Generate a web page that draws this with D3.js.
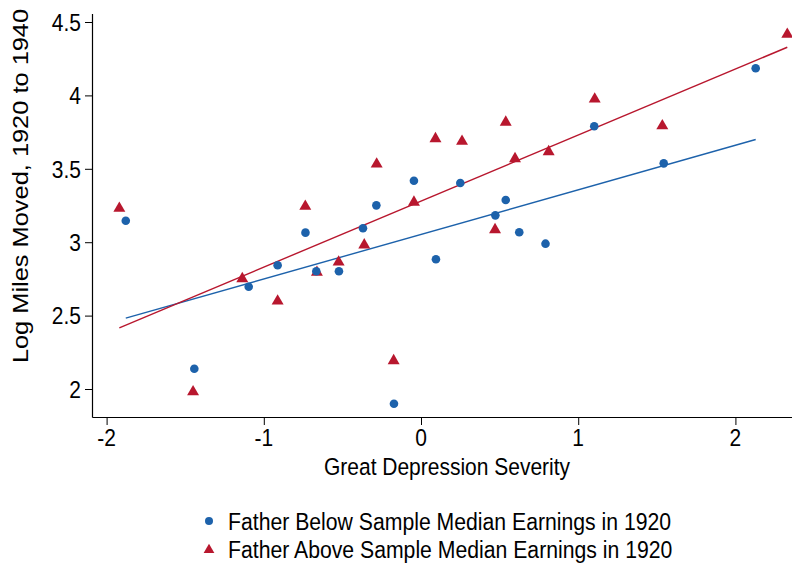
<!DOCTYPE html>
<html>
<head>
<meta charset="utf-8">
<script src="https://cdn.jsdelivr.net/npm/d3@7/dist/d3.min.js"></script>
<style>
  html, body { margin: 0; padding: 0; background: #fff; }
  svg { display: block; }
  text { font-family: "Liberation Sans", Arial, Helvetica, sans-serif; fill: #000; }
</style>
</head>
<body>
<svg id="chart" width="792" height="563"></svg>
<script>
// Great Depression severity vs. log miles moved, by father's 1920 earnings group
const belowX = [-1.878, -1.442, -1.096, -0.912, -0.735, -0.666, -0.522, -0.369, -0.284, -0.172,
                -0.045, 0.095, 0.250, 0.473, 0.539, 0.625, 0.792, 1.102, 1.544, 2.129];
const belowY = [3.146, 2.138, 2.697, 2.843, 3.065, 2.802, 2.802, 3.095, 3.251, 1.900,
                3.419, 2.884, 3.403, 3.183, 3.287, 3.068, 2.990, 3.790, 3.537, 4.185];

const aboveX = [-1.919, -1.450, -1.137, -0.912, -0.736, -0.662, -0.524, -0.361, -0.282, -0.174,
                -0.045, 0.092, 0.261, 0.471, 0.539, 0.598, 0.812, 1.105, 1.535, 2.330];
const aboveY = [3.231, 1.981, 2.751, 2.599, 3.244, 2.795, 2.864, 2.981, 3.532, 2.193,
                3.272, 3.705, 3.687, 3.085, 3.817, 3.569, 3.616, 3.975, 3.793, 4.416];

// Linear fits: intercept, slope
const belowFit = [3.053, 0.3037];
const aboveFit = [3.280, 0.4498];

const xTicks = [-2, -1, 0, 1, 2];
const yTicks = [2, 2.5, 3, 3.5, 4, 4.5];

const seriesNames = ["Father Below Sample Median Earnings in 1920",
                     "Father Above Sample Median Earnings in 1920"];
const xTitle = "Great Depression Severity";
const yTitle = "Log Miles Moved, 1920 to 1940";

const BLUE = "#1d62ab";
const RED = "#b8172e";
const FS = 24.5;      // font size
const SX = 0.857;     // horizontal glyph scaling of the text

const svg = d3.select("#chart");
const plotL = 93, plotR = 792, plotT = 14, plotB = 417;

const x = d3.scaleLinear().domain([-2.0865, 2.360]).range([plotL, plotR]);
const y = d3.scaleLinear().domain([1.8093, 4.5545]).range([plotB, plotT]);

// Axes
const xAxis = svg.append("g").attr("transform", `translate(0,${plotB})`)
  .call(d3.axisBottom(x).tickValues(xTicks).tickSize(8).tickFormat(() => ""));
const yAxis = svg.append("g").attr("transform", `translate(${plotL},0)`)
  .call(d3.axisLeft(y).tickValues(yTicks).tickSize(8).tickFormat(() => ""));

[xAxis, yAxis].forEach(g => {
  g.select(".domain").attr("stroke", "#000").attr("stroke-width", 1.2);
  g.selectAll(".tick line").attr("stroke", "#000").attr("stroke-width", 1);
});
// Plain domain lines without outer ticks
xAxis.select(".domain").attr("d", `M${plotL - 0.5},0.5H${plotR}`);
yAxis.select(".domain").attr("d", `M-0.5,${plotT}V${plotB + 0.5}`);

// Tick labels
svg.append("g").selectAll("text").data(xTicks).join("text")
  .attr("transform", d => `translate(${x(d)},446) scale(${SX},1)`)
  .attr("text-anchor", "middle")
  .attr("font-size", FS)
  .text(d => String(d));

svg.append("g").selectAll("text").data(yTicks).join("text")
  .attr("transform", d => `translate(81,${y(d) + 0.358 * FS}) scale(${SX},1)`)
  .attr("text-anchor", "end")
  .attr("font-size", FS)
  .text(d => String(d));

// Axis titles
svg.append("text")
  .attr("transform", `translate(447,475) scale(${SX},1)`)
  .attr("text-anchor", "middle")
  .attr("font-size", FS)
  .text(xTitle);

svg.append("text")
  .attr("transform", `translate(28,186) scale(${SX},1) rotate(-90)`)
  .attr("text-anchor", "middle")
  .attr("font-size", 25.4)
  .text(yTitle);

// Fit lines
const fitLine = (fit, xs) => {
  const x0 = d3.min(xs), x1 = d3.max(xs);
  return [[x0, fit[0] + fit[1] * x0], [x1, fit[0] + fit[1] * x1]];
};
const line = d3.line().x(d => x(d[0])).y(d => y(d[1]));

svg.append("path").datum(fitLine(belowFit, belowX))
  .attr("d", line).attr("fill", "none").attr("stroke", BLUE).attr("stroke-width", 1.4);
svg.append("path").datum(fitLine(aboveFit, aboveX))
  .attr("d", line).attr("fill", "none").attr("stroke", RED).attr("stroke-width", 1.4);

// Markers
const tri = d3.symbol().type(d3.symbolTriangle).size(62);
const belowPts = belowX.map((v, i) => [v, belowY[i]]);
const abovePts = aboveX.map((v, i) => [v, aboveY[i]]);

svg.append("g").selectAll("path").data(abovePts).join("path")
  .attr("d", tri)
  .attr("transform", d => `translate(${x(d[0])},${y(d[1])})`)
  .attr("fill", RED);

svg.append("g").selectAll("circle").data(belowPts).join("circle")
  .attr("cx", d => x(d[0])).attr("cy", d => y(d[1])).attr("r", 4.3)
  .attr("fill", BLUE);

// Legend
const legend = svg.append("g");
legend.append("circle").attr("cx", 209).attr("cy", 521).attr("r", 4).attr("fill", BLUE);
legend.append("path").attr("d", d3.symbol().type(d3.symbolTriangle).size(50))
  .attr("transform", "translate(209,550)").attr("fill", RED);
legend.selectAll("text").data(seriesNames).join("text")
  .attr("transform", (d, i) => `translate(228,${530 + i * 28}) scale(${SX * 1.01},1)`)
  .attr("font-size", FS)
  .text(d => d);
</script>
</body>
</html>
